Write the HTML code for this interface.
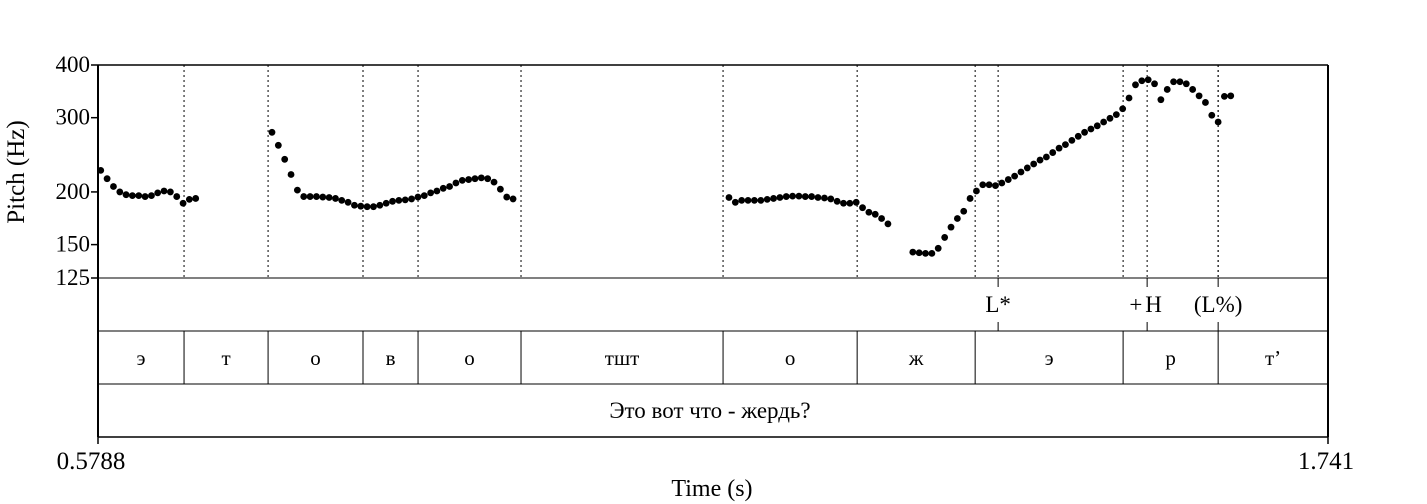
<!DOCTYPE html>
<html><head><meta charset="utf-8"><style>
html,body{margin:0;padding:0;background:#fff;}
svg{display:block;font-family:"Liberation Serif",serif;}
</style></head><body>
<svg id="chart" width="1427" height="504" viewBox="0 0 1427 504" xmlns="http://www.w3.org/2000/svg"></svg>
<script>
const times = [0.5814,0.5874,0.5934,0.5994,0.6053,0.6113,0.6173,0.6233,0.6293,0.6352,0.6412,0.6472,0.6532,0.6592,0.6651,0.6711,
0.7432,0.7492,0.7552,0.7612,0.7672,0.7732,0.7792,0.7852,0.7912,0.7972,0.8032,0.8091,0.8151,0.8211,0.8271,0.8331,0.8391,0.8451,0.8511,0.8571,0.8631,0.8691,0.8751,0.8811,0.8871,0.8931,0.8990,0.9050,0.9110,0.9170,0.9230,0.9290,0.9350,0.9410,0.9470,0.9530,0.9590,0.9650,0.9710,
1.1750,1.1810,1.1870,1.1930,1.1990,1.2051,1.2111,1.2171,1.2231,1.2291,1.2351,1.2411,1.2471,1.2531,1.2591,1.2652,1.2712,1.2772,1.2832,1.2892,1.2952,1.3012,1.3072,1.3132,1.3192,1.3252,
1.3487,1.3547,1.3607,1.3667,1.3727,1.3788,1.3848,1.3908,1.3968,1.4028,1.4088,1.4148,1.4208,1.4268,1.4328,1.4389,1.4449,1.4509,1.4569,1.4629,1.4689,1.4749,1.4809,1.4869,1.4929,1.4990,1.5050,1.5110,1.5170,1.5230,1.5290,1.5350,1.5410,1.5470,1.5530,1.5591,1.5651,1.5711,1.5771,1.5831,1.5891,1.5951,1.6011,1.6071,1.6131,1.6192,1.6252,1.6312,1.6372,
1.6431,1.6491];
const pitch = [225,215,206,200,197,196,196,195,196,199,201,200,195,188,192,193,
277,258,239,220,202,195,195,195,194.5,194,193,191,189,186,185,184.5,184.5,186,188,190,191,191.5,192.5,194.5,196,199,201,204,206,210,213,214,215,216,215,211,203,194.5,192.5,
194,189,191,191,191,191,192,193,194,195,195.5,195.5,195,195,194,193.5,192.5,190,188,188,189,183.5,179,177,173,168,
144,143.5,143,143,147,156,165,173,180,193,201,208,208,207,210,214,218,223,228,233,238,242,248,254,259,265,271,277,282,287,293,299,305,315,334,359,367,369,361,331,350,365,365,361,350,338,326,304,293,
337,338];
const yTicks = [400,300,200,150,125];
const phoneBounds = [0.6601,0.7395,0.8292,0.8812,0.9785,1.1694,1.2961,1.4076,1.5474,1.6372];
const phoneLabels = ["э","т","о","в","о","тшт","о","ж","э","р","т’"];
const tonePoints = [1.4293,1.5701,1.6372];
const toneLabels = ["L*","+H","(L%)"];
const wordLabel = "Это вот что - жердь?";
const tMin = 0.5788, tMax = 1.741, fMin = 125, fMax = 400;

const L=98,R=1328,T=65,PB=278,T1=331,T2=384,B=437;
const NS="http://www.w3.org/2000/svg";
const svg=document.getElementById('chart');
function X(t){return L+(t-tMin)/(tMax-tMin)*(R-L);}
function Y(f){return PB-(Math.log(f)-Math.log(fMin))/(Math.log(fMax)-Math.log(fMin))*(PB-T);}
function mk(tag,attrs,text){const e=document.createElementNS(NS,tag);for(const k in attrs)e.setAttribute(k,attrs[k]);if(text!==undefined)e.textContent=text;svg.appendChild(e);return e;}

const dotted=phoneBounds.concat(tonePoints);
dotted.forEach(t=>{
  const l=mk('line',{x1:X(t),x2:X(t),y1:T,y2:PB,stroke:'#000','stroke-width':1,'stroke-dasharray':'2,3'});
  
  
});
[[L,T,R,T,1.5],[L,PB,R,PB,1],[L,T1,R,T1,1],[L,T2,R,T2,1],[L,B,R,B,1.5],[L,T,L,B,2],[R,T,R,B,2]].forEach(a=>{
  const l=mk('line',{x1:a[0],y1:a[1],x2:a[2],y2:a[3],stroke:'#000','stroke-width':a[4]});
  
  
});
yTicks.forEach(v=>{
  const tk=mk('line',{x1:L-7,x2:L,y1:Y(v),y2:Y(v),stroke:'#000','stroke-width':1.5});
  
  
  const tx=mk('text',{x:L-8,y:Y(v)+7,'text-anchor':'end','font-size':23},String(v));
  
  
});
const yt=mk('text',{x:24,y:172,'text-anchor':'middle','font-size':25,transform:'rotate(-90 24 172)'},'Pitch (Hz)');


[[tMin,'0.5788',-7],[tMax,'1.741',-2]].forEach(a=>{
  const tk=mk('line',{x1:X(a[0]),x2:X(a[0]),y1:B,y2:B+7,stroke:'#000','stroke-width':1.5});
  
  
  const tx=mk('text',{x:X(a[0])+a[2],y:469,'text-anchor':'middle','font-size':25},a[1]);
  
  
});
const xt=mk('text',{x:712,y:496,'text-anchor':'middle','font-size':24},'Time (s)');


times.forEach((t,i)=>{
  const c=mk('circle',{cx:X(t),cy:Y(pitch[i]),r:3.4,fill:'#000'});
  
  
});
tonePoints.forEach((t,i)=>{
  const a=mk('line',{x1:X(t),x2:X(t),y1:PB,y2:PB+9,stroke:'#000','stroke-width':1});
  
  
  const b=mk('line',{x1:X(t),x2:X(t),y1:T1-9,y2:T1,stroke:'#000','stroke-width':1});
  
  
  const tx=mk('text',{x:X(t),y:312,'text-anchor':'middle','font-size':23,'letter-spacing':i===1?'3':'0'},toneLabels[i]);
  
  
});
phoneBounds.forEach(t=>{
  const l=mk('line',{x1:X(t),x2:X(t),y1:T1,y2:T2,stroke:'#000','stroke-width':1});
  
  
});
const edges=[tMin].concat(phoneBounds,[tMax]);
phoneLabels.forEach((s,i)=>{
  const tx=mk('text',{x:(X(edges[i])+X(edges[i+1]))/2,y:365,'text-anchor':'middle','font-size':21},s);
  
  
});
const w=mk('text',{x:(L+R)/2-3,y:418,'text-anchor':'middle','font-size':23},wordLabel);


</script>
</body></html>
